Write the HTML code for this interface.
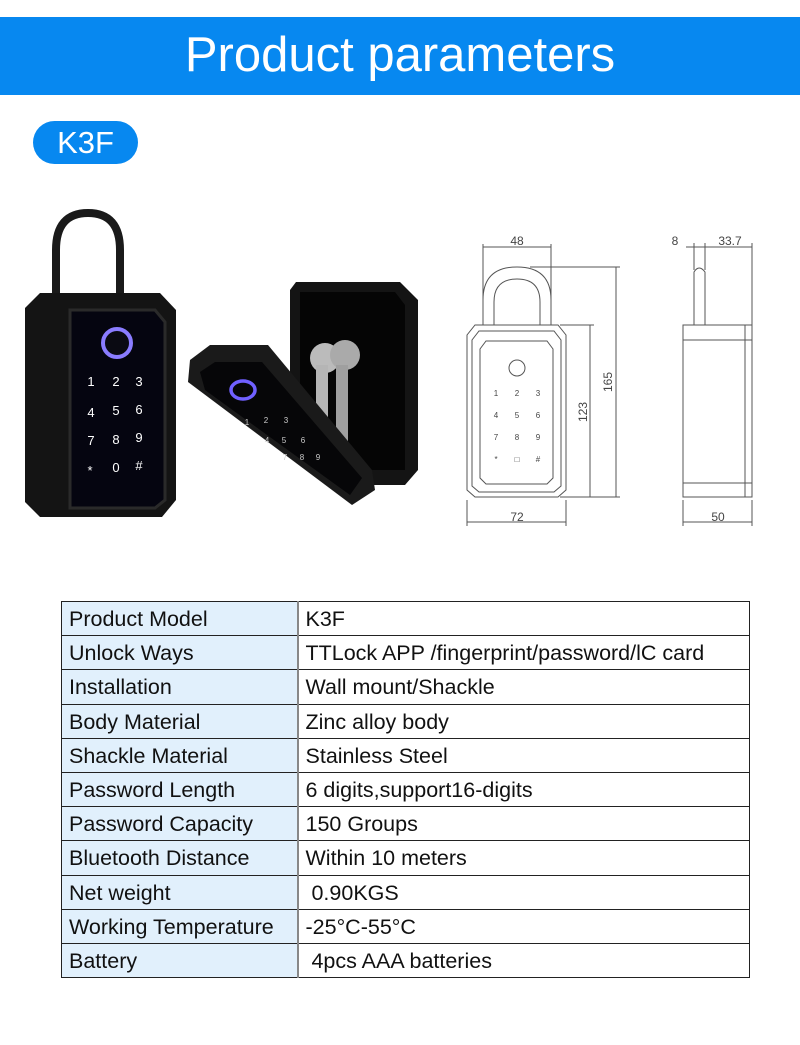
<!DOCTYPE html>
<html><head><meta charset="utf-8"><style>
*{margin:0;padding:0;box-sizing:border-box}
body{width:800px;height:1045px;background:#fff;position:relative;overflow:hidden;font-family:"Liberation Sans","Noto Sans CJK SC",sans-serif}
.hdr{position:absolute;left:0;top:17px;width:800px;height:78px;background:#0788f0;color:#fff;font-size:49px;text-align:center;line-height:76px}
.pill{position:absolute;left:33px;top:121px;width:105px;height:43px;background:#0788f0;border-radius:22px;color:#fff;font-size:31px;text-align:center;line-height:43px}
table{position:absolute;left:61px;top:601px;width:689px;border-collapse:collapse;font-size:21.5px;color:#111}
td{border:1px solid #222;height:34.2px;padding:1px 7px 0;white-space:nowrap;line-height:28px}
td.k{background:#e1f0fc;width:236px;border-right:2px solid #888}
svg{position:absolute;left:0;top:0}
</style></head><body>
<div class="hdr">Product parameters</div>
<div class="pill">K3F</div>
<svg width="800" height="560" viewBox="0 0 800 560">
<path d="M56 295 V250 Q56 213 88 213 Q120 213 120 250 V295" fill="none" stroke="#1a1a1a" stroke-width="8"/>
<path d="M40 293 H160 L176 310 V500 L162 517 H40 L25 502 V308 Z" fill="#141414"/>
<path d="M70 310 H155 L165 322 V500 L155 508 H70 Z" fill="#050510" stroke="#2a2a2a" stroke-width="3"/>
<circle cx="117" cy="343" r="14" fill="#0a0a12" stroke="#8a7cff" stroke-width="4"/>
<g fill="#fff" font-size="13" text-anchor="middle" font-family="Liberation Sans">
<text x="91" y="386">1</text><text x="116" y="386">2</text><text x="139" y="386">3</text>
<text x="91" y="417">4</text><text x="116" y="415">5</text><text x="139" y="414">6</text>
<text x="91" y="445">7</text><text x="116" y="444">8</text><text x="139" y="442">9</text>
<text x="90" y="475">*</text><text x="116" y="472">0</text><text x="139" y="470">#</text></g>
<path d="M296 282 H400 L418 300 V470 L405 485 H345 L290 420 V290 Z" fill="#141414"/>
<path d="M300 292 H395 L405 305 V470 H350 L300 415 Z" fill="#050505"/>
<circle cx="325" cy="358" r="15" fill="#bbb"/><circle cx="345" cy="355" r="15" fill="#aaa"/>
<rect x="316" y="365" width="12" height="70" fill="#b5b5b5"/><rect x="336" y="365" width="12" height="78" fill="#9f9f9f"/>
<path d="M190 360 L210 345 H268 L372 470 L375 490 L352 505 L188 382 Z" fill="#1a1a1a"/>
<path d="M200 372 L215 362 H262 L362 478 L350 495 L205 390 Z" fill="#060608"/>
<ellipse cx="243" cy="390" rx="12" ry="9" fill="none" stroke="#7060ff" stroke-width="3.5"/>
<g fill="#ccc" font-size="8" text-anchor="middle"><text x="247" y="425">1</text><text x="266" y="423">2</text><text x="286" y="423">3</text>
<text x="267" y="443">4</text><text x="284" y="443">5</text><text x="303" y="443">6</text>
<text x="285" y="460">7</text><text x="302" y="460">8</text><text x="318" y="460">9</text></g>
<g fill="none" stroke="#555" stroke-width="1">
<path d="M483 325 V300 Q483 267 517 267 Q551 267 551 300 V325"/>
<path d="M494 325 V302 Q494 279 517 279 Q540 279 540 302 V325"/>
<path d="M475 325 H558 L566 335 V490 L558 497 H475 L467 490 V335 Z"/>
<path d="M479 331 H554 L561 340 V486 L554 492 H479 L472 486 V340 Z"/>
<path d="M486 341 H547 L553 349 V478 L547 484 H486 L480 478 V349 Z"/>
<circle cx="517" cy="368" r="8"/>
<line x1="483" y1="247" x2="551" y2="247"/><line x1="483" y1="244" x2="483" y2="300"/><line x1="551" y1="244" x2="551" y2="300"/>
<line x1="530" y1="267" x2="620" y2="267"/><line x1="616" y1="267" x2="616" y2="497"/>
<line x1="560" y1="325" x2="594" y2="325"/><line x1="590" y1="325" x2="590" y2="497"/>
<line x1="560" y1="497" x2="620" y2="497"/>
<line x1="467" y1="500" x2="467" y2="526"/><line x1="566" y1="500" x2="566" y2="526"/><line x1="467" y1="522" x2="566" y2="522"/>
<path d="M694 325 V272 Q699 264 705 272 V325"/>
<rect x="683" y="325" width="69" height="172"/><line x1="683" y1="340" x2="752" y2="340"/><line x1="683" y1="483" x2="752" y2="483"/><line x1="745" y1="325" x2="745" y2="497"/>
<line x1="686" y1="247" x2="752" y2="247"/><line x1="694" y1="243" x2="694" y2="270"/><line x1="705" y1="243" x2="705" y2="270"/><line x1="752" y1="243" x2="752" y2="325"/>
<line x1="683" y1="500" x2="683" y2="526"/><line x1="752" y1="500" x2="752" y2="526"/><line x1="683" y1="522" x2="752" y2="522"/>
</g>
<g fill="#444" font-size="12" text-anchor="middle" font-family="Liberation Sans">
<text x="517" y="245">48</text><text x="517" y="521">72</text><text x="675" y="245">8</text><text x="730" y="245">33.7</text><text x="718" y="521">50</text>
<text transform="translate(612 382) rotate(-90)">165</text><text transform="translate(587 412) rotate(-90)">123</text>
<g font-size="8"><text x="496" y="396">1</text><text x="517" y="396">2</text><text x="538" y="396">3</text>
<text x="496" y="418">4</text><text x="517" y="418">5</text><text x="538" y="418">6</text>
<text x="496" y="440">7</text><text x="517" y="440">8</text><text x="538" y="440">9</text>
<text x="496" y="462">*</text><text x="517" y="462">□</text><text x="538" y="462">#</text></g></g>
</svg>
<table>
<tr><td class="k">Product Model</td><td>K3F</td></tr>
<tr><td class="k">Unlock Ways</td><td>TTLock APP /fingerprint/password/lC card</td></tr>
<tr><td class="k">Installation</td><td>Wall mount/Shackle</td></tr>
<tr><td class="k">Body Material</td><td>Zinc alloy body</td></tr>
<tr><td class="k">Shackle Material</td><td>Stainless Steel</td></tr>
<tr><td class="k">Password Length</td><td>6 digits,support16-digits</td></tr>
<tr><td class="k">Password Capacity</td><td>150 Groups</td></tr>
<tr><td class="k">Bluetooth Distance</td><td>Within 10 meters</td></tr>
<tr><td class="k">Net weight</td><td>&nbsp;0.90KGS</td></tr>
<tr><td class="k">Working Temperature</td><td>-25°C-55°C</td></tr>
<tr><td class="k">Battery</td><td>&nbsp;4pcs AAA batteries</td></tr>
</table>
</body></html>
